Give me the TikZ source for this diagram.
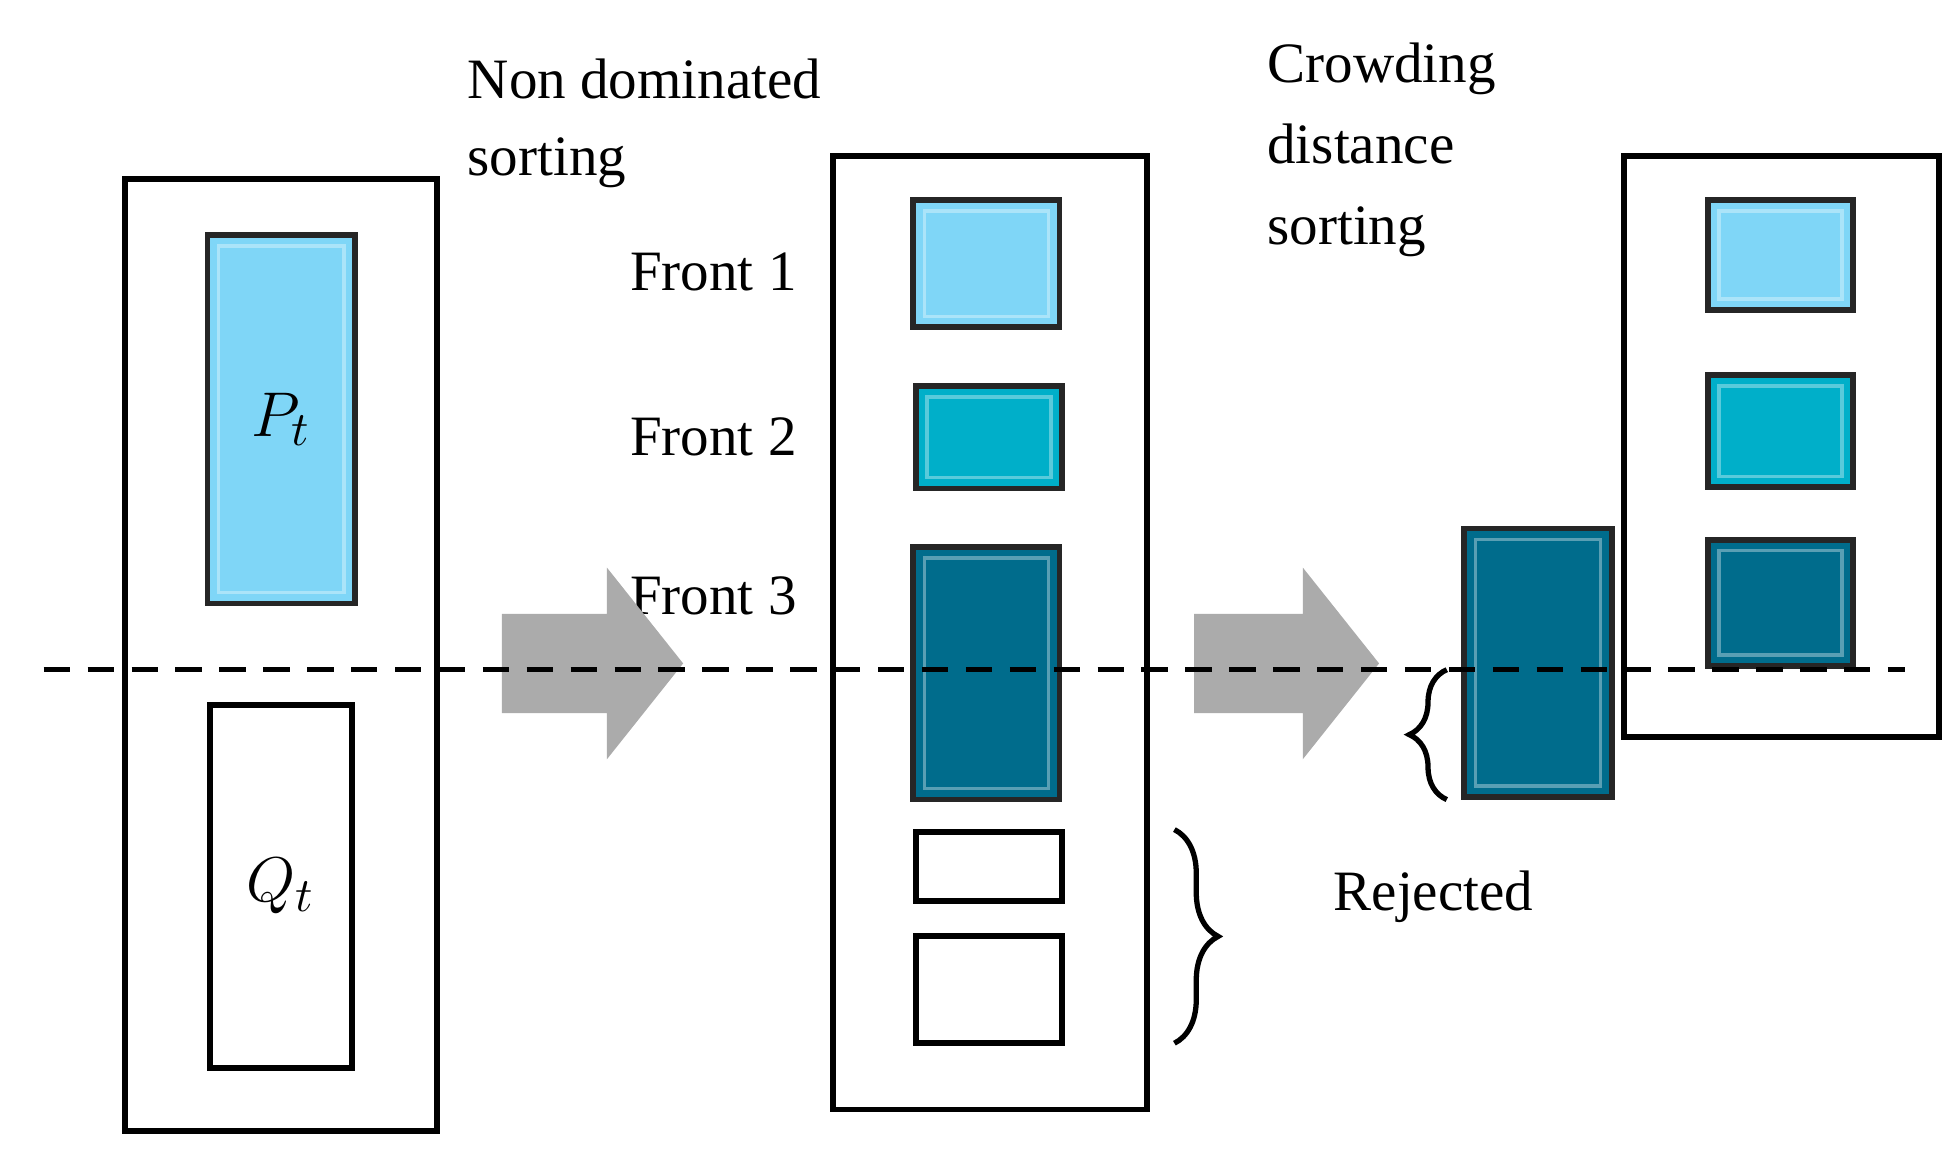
\documentclass[tikz,border=0pt]{standalone}
\usepackage{fontspec}
\setmainfont{Liberation Serif}
\usepackage{tikz}
\usetikzlibrary{shapes.arrows,decorations.pathreplacing}
\definecolor{clair}{HTML}{7FD6F7}
\definecolor{moyen}{HTML}{00AFC9}
\definecolor{fonce}{HTML}{006C8C}

\begin{document}
\begin{tikzpicture}
\tikzstyle{cadre}=[draw,line width=1.3pt,minimum width=2.5cm,inner sep=0pt]
\tikzstyle{bloc}=[draw=black!85,line width=1.3pt,minimum width=1.17cm,inner sep=0pt,
  path picture={\draw[white,opacity=0.35,line width=0.8pt]
  ([shift={(2.5pt,-2.5pt)}]path picture bounding box.north west) rectangle
  ([shift={(-2.5pt,2.5pt)}]path picture bounding box.south east);}]
\tikzstyle{vide}=[draw,line width=1.3pt,minimum width=1.15cm,inner sep=0pt]
\tikzstyle{fleche}=[single arrow,fill=black!33,text height=0.39cm,text depth=0.39cm,
  single arrow head extend=0.37cm,single arrow tip angle=103,minimum height=1.45cm,inner sep=0pt]
\tikzstyle{texte}=[font=\fontsize{13}{16}\selectfont]
\useasboundingbox (0,0) rectangle (15.68,9.40);
% population
\node[cadre,minimum height=7.62cm] (Pop) at (2.25,4.16) {};
\node[bloc,fill=clair,minimum width=1.18cm,minimum height=2.95cm] (P) at (2.25,6.045) {\fontsize{15}{15}\selectfont$P_t$};
\node[vide,minimum width=1.14cm,minimum height=2.91cm] (Q) at (2.25,2.305) {\fontsize{15}{15}\selectfont$Q_t$};
% fronts
\node[cadre,minimum width=2.51cm,minimum height=7.63cm] (Tri) at (7.925,4.335) {};
\node[bloc,fill=clair,minimum height=1.02cm] (F1) at (7.895,7.29) {};
\node[bloc,fill=moyen,minimum height=0.82cm] (F2) at (7.915,5.90) {};
\node[bloc,fill=fonce,minimum height=2.02cm] (F3) at (7.895,4.01) {};
\node[vide,minimum width=1.17cm,minimum height=0.55cm] (W1) at (7.915,2.465) {};
\node[vide,minimum width=1.17cm,minimum height=0.86cm] (W2) at (7.915,1.48) {};
\node[texte,anchor=east] (T1) at (6.50,7.22) {Front 1};
\node[texte,anchor=east] (T2) at (6.50,5.90) {Front 2};
\node[texte,anchor=east] (T3) at (6.50,4.63) {Front 3};
% nouvelle population
\node[bloc,fill=fonce,minimum width=1.18cm,minimum height=2.15cm] (F3b) at (12.31,4.095) {};
\node[cadre,minimum width=2.52cm,minimum height=4.65cm] (New) at (14.26,5.825) {};
\node[bloc,fill=clair,minimum width=1.16cm,minimum height=0.88cm] (R1) at (14.25,7.36) {};
\node[bloc,fill=moyen,minimum width=1.16cm,minimum height=0.90cm] (R2) at (14.25,5.95) {};
\node[bloc,fill=fonce,minimum width=1.16cm,minimum height=1.01cm] (R3) at (14.25,4.575) {};
% fleches
\node[fleche] (A1) at (4.585,4.09) {};
\node[fleche,minimum height=1.48cm] (A2) at (10.14,4.09) {};
\node[texte,anchor=west,align=left,font=\fontsize{13}{17.6}\selectfont] (ND) at (3.62,8.41) {Non dominated\\sorting};
\node[texte,anchor=west,align=left,font=\fontsize{13}{18.5}\selectfont] (CD) at (10.02,8.20) {Crowding\\distance\\sorting};
\node[texte,anchor=west] (Rej) at (10.55,2.22) {Rejected};
% accolades
\draw[line width=1.2pt,decorate,decoration={brace,amplitude=0.35cm}] (9.40,2.76) -- (9.40,1.05);
\draw[line width=1.2pt,decorate,decoration={brace,amplitude=0.3cm}] (11.58,3.00) -- (11.58,4.04);
% ligne
\coordinate (g) at (0.35,4.04);
\coordinate (d) at (15.25,4.04);
\draw[line width=1.2pt,dashed,dash pattern=on 6pt off 4pt] (g) -- (d);
\end{tikzpicture}
\end{document}
